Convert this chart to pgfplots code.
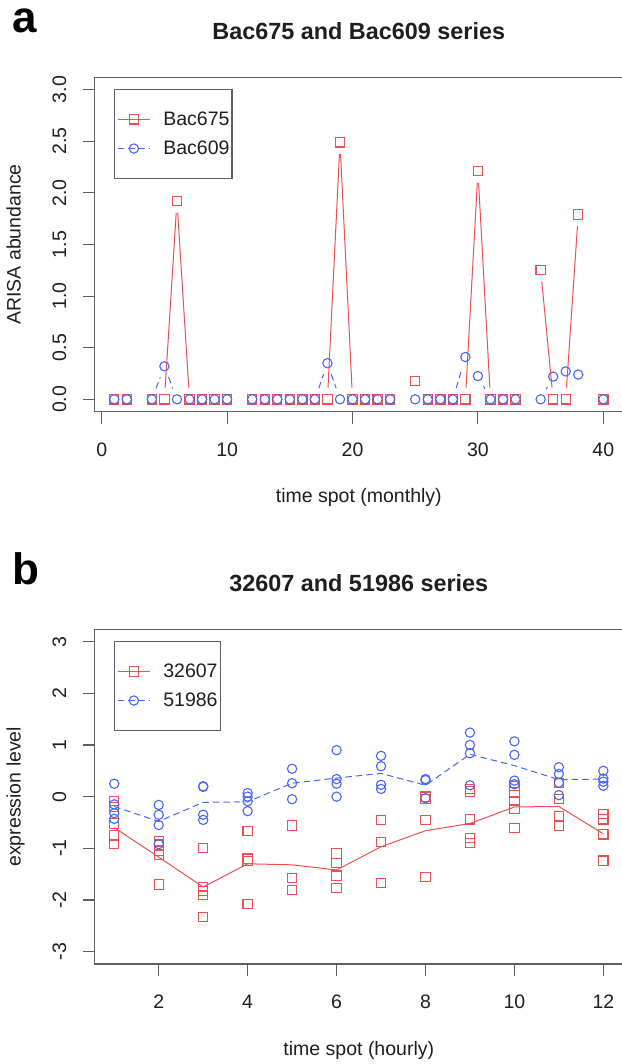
\documentclass[border=0pt]{standalone}
\usepackage{pgfplots}
\usepackage{pgfplotstable}
\pgfplotsset{compat=1.18}
\usepackage{fontspec}
\setmainfont{Liberation Sans}

\definecolor{sred}{RGB}{235,80,80}
\definecolor{sblue}{RGB}{72,102,245}
\definecolor{axgray}{RGB}{95,95,95}
\definecolor{txt}{RGB}{30,30,30}

\newcommand\basefont{\fontsize{19.5pt}{19.5pt}\selectfont}
\newcommand\titlefont{\fontsize{23.4pt}{23.4pt}\selectfont\bfseries}
\newcommand\letterfont{\fontsize{44pt}{44pt}\selectfont\bfseries}

% ARISA abundance, monthly; months 3, 11, 24, 34 and 39 are missing
\pgfplotstableread{
x a b
1 0 0
2 0 0
4 0 0
5 0 0.32
6 1.92 0
7 0 0
8 0 0
9 0 0
10 0 0
12 0 0
13 0 0
14 0 0
15 0 0
16 0 0
17 0 0
18 0 0.35
19 2.49 0
20 0 0
21 0 0
22 0 0
23 0 0
25 0.18 0
26 0 0
27 0 0
28 0 0
29 0 0.41
30 2.21 0.225
31 0 0
32 0 0
33 0 0
35 1.255 0
36 0 0.22
37 0 0.27
38 1.79 0.24
40 0 0
}\arisa
% step to the next observation (for the type="b" connecting segments)
\pgfplotstablecreatecol[create col/expr={\nextrow{x}-\thisrow{x}}]{dx}\arisa
\pgfplotstablecreatecol[create col/expr={\nextrow{a}-\thisrow{a}}]{da}\arisa
\pgfplotstablecreatecol[create col/expr={\nextrow{b}-\thisrow{b}}]{db}\arisa

% expression level, hourly replicates
\pgfplotstableread{
h v
1 -0.08
1 -0.20
1 -0.52
1 -0.75
1 -0.92
2 -0.86
2 -0.93
2 -1.05
2 -1.13
2 -1.70
3 -1.00
3 -1.75
3 -1.83
3 -1.90
3 -2.33
4 -0.67
4 -1.20
4 -1.25
4 -2.08
5 -0.56
5 -1.57
5 -1.81
6 -1.10
6 -1.28
6 -1.53
6 -1.77
7 -0.45
7 -0.88
7 -1.67
8 0.00
8 -0.05
8 -0.45
8 -1.55
9 0.15
9 0.10
9 -0.44
9 -0.80
9 -0.90
10 0.21
10 0.08
10 -0.08
10 -0.24
10 -0.61
11 0.27
11 -0.05
11 -0.37
11 -0.57
12 -0.34
12 -0.44
12 -0.73
12 -1.24
}\redpts

\pgfplotstableread{
h v
1 0.25
1 -0.15
1 -0.32
1 -0.43
2 -0.16
2 -0.35
2 -0.55
2 -0.92
3 0.20
3 0.19
3 -0.35
3 -0.45
4 0.07
4 0.00
4 -0.09
4 -0.28
5 0.54
5 0.26
5 -0.05
6 0.90
6 0.34
6 0.25
6 0.00
7 0.79
7 0.59
7 0.23
7 0.15
8 0.34
8 0.32
8 -0.03
9 1.24
9 1.00
9 0.84
9 0.22
10 1.07
10 0.81
10 0.31
10 0.24
11 0.57
11 0.44
11 0.27
11 0.03
12 0.50
12 0.35
12 0.29
12 0.21
}\bluepts

% hourly mean profiles
\pgfplotstableread{
h r b
1 -0.60 -0.19
2 -1.17 -0.48
3 -1.75 -0.11
4 -1.30 -0.10
5 -1.32 0.26
6 -1.42 0.36
7 -0.97 0.45
8 -0.66 0.22
9 -0.52 0.82
10 -0.20 0.60
11 -0.19 0.33
12 -0.72 0.34
}\means

\pgfplotsset{
  rplot/.style={
    scale only axis, width=528.2pt, height=334.4pt,
    axis line style={axgray, line width=1.1pt},
    tick style={axgray, line width=1.1pt},
    tick align=outside, major tick length=12pt,
    xtick pos=left, ytick pos=left,
    /pgf/number format/assume math mode=true,
    ticklabel style={font=\basefont, text=txt, inner sep=0pt},
    xticklabel style={anchor=north},
    yticklabel style={anchor=east},
    xticklabel shift=19pt, yticklabel shift=16.3pt,
    legend cell align=left,
    legend style={at={(axis description cs:0.0371,0.9641)}, anchor=north west,
      draw=axgray, line width=1.1pt, font=\basefont, text=txt,
      inner xsep=2.5pt, inner ysep=22pt, row sep=14pt, column sep=13pt,
      nodes={inner sep=0pt}},
    legend image code/.code={
      \draw[mark repeat=2, mark phase=2, ##1] plot coordinates {(0pt,0pt) (16pt,0pt) (32pt,0pt)};
    },
  },
  redmark/.style={sred, mark=square, mark size=4.65pt, mark options={solid, line width=1.1pt}},
  bluemark/.style={sblue, mark=o, mark size=4.65pt, mark options={solid, line width=1.1pt}},
  redline/.style={sred, line width=1pt},
  blueline/.style={sblue, line width=1pt, dash pattern=on 6.5pt off 4pt},
}

\begin{document}
\begin{tikzpicture}[x=1pt, y=1pt]
\useasboundingbox (0,0) rectangle (621,1064);

% ---- panel a ----
\begin{axis}[rplot, at={(94.7pt,652.3pt)}, anchor=south west,
  xmin=-0.56, xmax=41.56, ymin=-0.12, ymax=3.12,
  xtick={0,10,20,30,40}, ytick={0,0.5,1,1.5,2,2.5,3},
  yticklabel={\rotatebox{90}{\pgfmathprintnumber[fixed, fixed zerofill, precision=1]{\tick}}}]
  % connecting segments stop short of the symbols, as with type = "b"
  \addplot[redline, forget plot, quiver={u=\thisrow{dx}, v=\thisrow{da}},
    shorten <=11.7pt, shorten >=11.7pt,
    y filter/.expression={((\thisrow{dx}==1)*(abs(\thisrow{da})>0.19)) ? y : nan}]
    table[x=x, y=a] {\arisa};
  \addplot[redmark, only marks, forget plot] table[x=x, y=a] {\arisa};
  \addplot[blueline, forget plot, quiver={u=\thisrow{dx}, v=\thisrow{db}},
    shorten <=11.7pt, shorten >=11.7pt,
    y filter/.expression={((\thisrow{dx}==1)*(abs(\thisrow{db})>0.19)) ? y : nan}]
    table[x=x, y=b] {\arisa};
  \addplot[bluemark, only marks, forget plot] table[x=x, y=b] {\arisa};
  \addlegendimage{redline, redmark}
  \addlegendentry{Bac675}
  \addlegendimage{blueline, bluemark}
  \addlegendentry{Bac609}
\end{axis}

% ---- panel b ----
\begin{axis}[rplot, at={(94.7pt,100pt)}, anchor=south west, height=334.7pt,
  xmin=0.56, xmax=12.44, ymin=-3.24, ymax=3.24,
  xtick={2,4,6,8,10,12}, ytick={-3,-2,-1,0,1,2,3},
  yticklabel={\rotatebox{90}{\pgfmathprintnumber{\tick}}}]
  \addplot[redline, forget plot] table[x=h, y=r] {\means};
  \addplot[redmark, only marks, forget plot] table[x=h, y=v] {\redpts};
  \addplot[blueline, forget plot] table[x=h, y=b] {\means};
  \addplot[bluemark, only marks, forget plot] table[x=h, y=v] {\bluepts};
  \addlegendimage{redline, redmark}
  \addlegendentry{32607}
  \addlegendimage{blueline, bluemark}
  \addlegendentry{51986}
\end{axis}

% titles, panel letters and axis labels
\node[font=\letterfont, text=black, anchor=base west, inner sep=0pt] at (12,1031) {a};
\node[font=\titlefont, text=txt, anchor=center, inner sep=0pt] at (358.8,1033) {Bac675 and Bac609 series};
\node[font=\basefont, text=txt, anchor=base, inner sep=0pt] at (358.8,561) {time spot (monthly)};
\node[font=\basefont, text=txt, anchor=base, inner sep=0pt, rotate=90] at (20.7,819.5) {ARISA abundance};

\node[font=\letterfont, text=black, anchor=base west, inner sep=0pt] at (12,479) {b};
\node[font=\titlefont, text=txt, anchor=center, inner sep=0pt] at (358.8,481) {32607 and 51986 series};
\node[font=\basefont, text=txt, anchor=base, inner sep=0pt] at (358.8,9) {time spot (hourly)};
\node[font=\basefont, text=txt, anchor=base, inner sep=0pt, rotate=90] at (20.7,267.3) {expression level};
\end{tikzpicture}
\end{document}
